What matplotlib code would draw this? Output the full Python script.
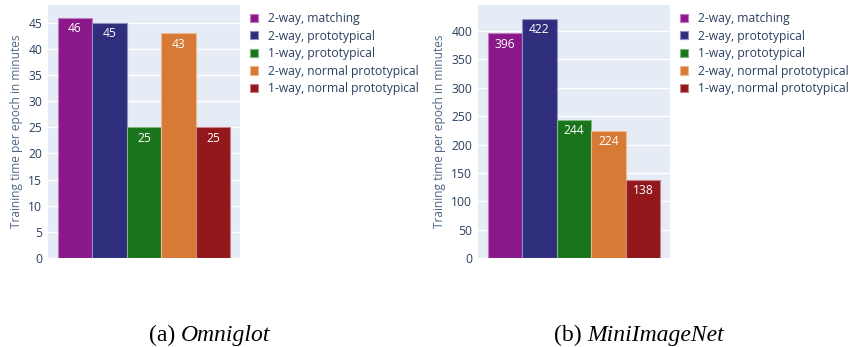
import matplotlib
matplotlib.use("Agg")
import matplotlib.pyplot as plt

# series names and the two datasets
series = ["2-way, matching", "2-way, prototypical", "1-way, prototypical",
          "2-way, normal prototypical", "1-way, normal prototypical"]
omniglot = [46, 45, 25, 43, 25]
miniimagenet = [396, 422, 244, 224, 138]

colors = ["#8b188b", "#2f2e7c", "#1a741b", "#d67a36", "#93181c"]
edges = ["#c27ac2", "#8f8fc0", "#7fb67f", "#f0b88f", "#c98386"]

plt.rcParams["font.family"] = ["Open Sans", "DejaVu Sans"]
text_col = "#2a3f5f"

fig = plt.figure(figsize=(8.49, 3.47), dpi=100)


def panel(left, values, ymax, step, legend_x):
    ax = fig.add_axes([left / 849, 89 / 347, 192 / 849, 253 / 347])
    ax.set_facecolor("#e5ecf6")
    w = 0.18
    xs = [(i - 2) * w for i in range(len(values))]
    bars = []
    for x, v, c, e, name in zip(xs, values, colors, edges, series):
        b = ax.bar(x, v, width=w, color=c, edgecolor=e, linewidth=0.8,
                   label=name, zorder=3)
        bars.append(b)
        ax.annotate(str(v), (x, v), xytext=(0, -11), textcoords="offset pixels",
                    ha="center", va="center", color="white", fontsize=8.7,
                    zorder=4)
    ax.set_xlim(-0.5, 0.5)
    ax.set_ylim(0, ymax)
    ax.set_yticks(range(0, int(ymax) + 1, step))
    ax.set_xticks([])
    ax.grid(axis="y", color="white", linewidth=1, zorder=0)
    ax.set_axisbelow(True)
    for s in ax.spines.values():
        s.set_visible(False)
    ax.tick_params(axis="y", length=0, labelsize=8.7, labelcolor=text_col, pad=4)
    ax.set_ylabel("Training time per epoch in minutes", fontsize=8.6,
                  color="#506784", labelpad=4)
    fig.legend(handles=bars, loc="upper left",
               bbox_to_anchor=(legend_x / 849, 1 - 12 / 347), frameon=False,
               fontsize=8.7, handlelength=0.65, handleheight=0.65,
               handletextpad=0.8, labelspacing=0.38, borderaxespad=0,
               borderpad=0, labelcolor=text_col)
    return ax


panel(48, omniglot, 48.4, 5, 250)
panel(478, miniimagenet, 446, 50, 680)

cap_y = 1 - 335 / 347
fig.text(181 / 849, cap_y, "(a) ", fontsize=17, family="Liberation Serif",
         ha="right", va="center")
fig.text(181 / 849, cap_y, "Omniglot", fontsize=17, family="Liberation Serif",
         style="italic", ha="left", va="center")
fig.text(587 / 849, cap_y, "(b) ", fontsize=17, family="Liberation Serif",
         ha="right", va="center")
fig.text(587 / 849, cap_y, "MiniImageNet", fontsize=17,
         family="Liberation Serif", style="italic", ha="left", va="center")

fig.savefig("out.png", dpi=100)
